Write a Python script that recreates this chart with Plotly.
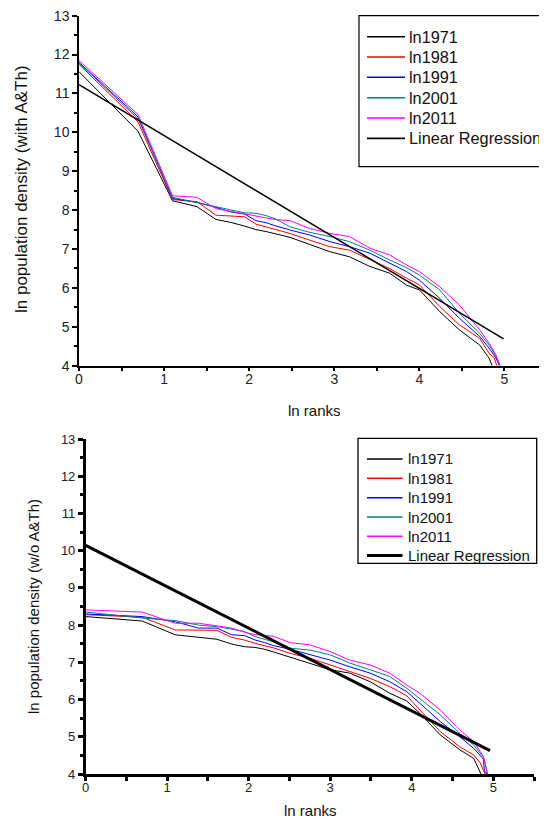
import plotly.graph_objects as go

# ---------------- data ----------------
years = ["ln1971", "ln1981", "ln1991", "ln2001", "ln2011"]
colors = ["#000000", "#ff0000", "#0000ff", "#008080", "#ff00ff"]
reg_name = "Linear Regression"

# top panel: with A&Th
x_top = [0, 0.693, 1.099, 1.386, 1.609, 1.792, 1.946, 2.079, 2.197, 2.303,
         2.48, 2.71, 2.95, 3.18, 3.42, 3.65, 3.85, 4.0, 4.24, 4.47, 4.71, 4.82]
top_1971 = [11.56, 10.03, 8.24, 8.09, 7.76, 7.68, 7.59, 7.50, 7.45, 7.40,
            7.30, 7.12, 6.93, 6.80, 6.55, 6.38, 6.07, 5.95, 5.39, 4.92, 4.53, 4.19]
top_1981 = [11.75, 10.27, 8.27, 8.22, 7.87, 7.84, 7.83, 7.64, 7.57, 7.52,
            7.40, 7.23, 7.06, 6.97, 6.72, 6.50, 6.25, 6.08, 5.52, 5.05, 4.70, 4.32]
top_1991 = [11.80, 10.40, 8.30, 8.20, 8.07, 7.95, 7.90, 7.73, 7.68, 7.60,
            7.49, 7.36, 7.19, 7.06, 6.89, 6.63, 6.42, 6.20, 5.73, 5.22, 4.75, 4.45]
top_2001 = [11.78, 10.35, 8.33, 8.20, 8.08, 8.00, 7.93, 7.92, 7.86, 7.78,
            7.57, 7.43, 7.32, 7.19, 6.97, 6.72, 6.52, 6.33, 5.95, 5.35, 4.83, 4.53]
top_2011 = [11.85, 10.46, 8.37, 8.33, 8.04, 7.97, 7.92, 7.85, 7.80, 7.76,
            7.73, 7.53, 7.40, 7.32, 7.02, 6.85, 6.59, 6.42, 6.03, 5.56, 4.92, 4.58]
top_tail_x = [[4.855], [4.88, 4.91], [4.90, 4.94], [4.90, 4.94], [4.90, 4.95]]
top_tail_y = [[4.0], [4.2, 4.0], [4.2, 4.0], [4.25, 4.0], [4.28, 4.0]]
top_reg_x = [0, 4.99]
top_reg_y = [11.23, 4.69]

# bottom panel: without A&Th
x_bot = [0, 0.693, 1.099, 1.386, 1.609, 1.792, 1.946, 2.079, 2.197, 2.303,
         2.51, 2.75, 3.0, 3.24, 3.49, 3.73, 3.94, 4.10, 4.35, 4.59, 4.76]
bot_1971 = [8.23, 8.11, 7.74, 7.67, 7.62, 7.49, 7.42, 7.40, 7.35, 7.28,
            7.14, 6.98, 6.80, 6.71, 6.48, 6.17, 5.96, 5.63, 5.05, 4.65, 4.42]
bot_1981 = [8.28, 8.21, 7.87, 7.87, 7.86, 7.67, 7.60, 7.51, 7.44, 7.39,
            7.24, 7.11, 6.93, 6.75, 6.57, 6.35, 6.10, 5.72, 5.14, 4.73, 4.51]
bot_1991 = [8.30, 8.23, 8.09, 7.92, 7.92, 7.74, 7.72, 7.60, 7.53, 7.45,
            7.35, 7.20, 7.06, 6.88, 6.71, 6.48, 6.21, 5.90, 5.41, 5.00, 4.69]
bot_2001 = [8.35, 8.19, 8.12, 8.00, 7.96, 7.90, 7.83, 7.69, 7.62, 7.55,
            7.38, 7.33, 7.20, 6.98, 6.80, 6.62, 6.30, 6.03, 5.59, 5.09, 4.78]
bot_2011 = [8.41, 8.35, 8.05, 8.05, 7.98, 7.92, 7.81, 7.74, 7.72, 7.70,
            7.53, 7.47, 7.29, 7.06, 6.93, 6.71, 6.39, 6.17, 5.72, 5.18, 4.87]
bot_tail_x = [[4.85], [4.84, 4.90], [4.88, 4.89, 4.92], [4.88, 4.93], [4.88, 4.93]]
bot_tail_y = [[4.0], [4.3, 4.0], [4.4, 4.1, 4.0], [4.45, 4.0], [4.47, 4.0]]
bot_reg_x = [0, 4.96]
bot_reg_y = [10.14, 4.63]

x_ticks = [0, 1, 2, 3, 4, 5]
y_ticks = [4, 5, 6, 7, 8, 9, 10, 11, 12, 13]

# ---------------- figure ----------------
# the page body has an 8px margin, so the figure is 8px smaller and all
# reference pixel positions are shifted by 8px
OFF = 8
W, H = 547 - OFF, 820 - OFF
FONT = "Liberation Sans, Arial, sans-serif"
fig = go.Figure()

top_series = [top_1971, top_1981, top_1991, top_2001, top_2011]
bot_series = [bot_1971, bot_1981, bot_1991, bot_2001, bot_2011]

for i, name in enumerate(years):
    fig.add_trace(go.Scatter(x=x_top + top_tail_x[i], y=top_series[i] + top_tail_y[i],
                             mode="lines", name=name, line=dict(color=colors[i], width=1),
                             xaxis="x", yaxis="y"))
fig.add_trace(go.Scatter(x=top_reg_x, y=top_reg_y, mode="lines", name=reg_name,
                         line=dict(color="#000000", width=1.5), xaxis="x", yaxis="y"))

for i, name in enumerate(years):
    fig.add_trace(go.Scatter(x=x_bot + bot_tail_x[i], y=bot_series[i] + bot_tail_y[i],
                             mode="lines", name=name, line=dict(color=colors[i], width=1),
                             xaxis="x2", yaxis="y2"))
fig.add_trace(go.Scatter(x=bot_reg_x, y=bot_reg_y, mode="lines", name=reg_name,
                         line=dict(color="#000000", width=3), xaxis="x2", yaxis="y2"))


def px_x(p):
    return (p - OFF) / W


def px_y(p):
    return 1 - (p - OFF) / H


def xax(domain, anchor, lw, fs):
    return dict(domain=domain, anchor=anchor, range=[0, 5.5], tickvals=x_ticks,
                showgrid=False, zeroline=False, showline=True, linecolor="#000", linewidth=lw,
                ticks="", tickfont=dict(family=FONT, size=fs, color="#222"),
                ticklabeloverflow="allow",
                minor=dict(dtick=0.5, tick0=0, ticks="outside", ticklen=4, tickcolor="#000",
                           tickwidth=lw, showgrid=False))


def yax(domain, anchor, lw, fs):
    return dict(domain=domain, anchor=anchor, range=[4, 13], tickvals=y_ticks,
                showgrid=False, zeroline=False, showline=True, linecolor="#000", linewidth=lw,
                ticks="outside", ticklen=5, tickwidth=lw, tickcolor="#000",
                tickfont=dict(family=FONT, size=fs, color="#222"),
                ticklabeloverflow="allow",
                minor=dict(dtick=0.5, tick0=0, ticks="outside", ticklen=3, tickcolor="#000",
                           tickwidth=lw, showgrid=False))


fig.update_layout(
    width=W, height=H, margin=dict(l=0, r=0, t=0, b=0, autoexpand=False),
    paper_bgcolor="white", plot_bgcolor="white",
    font=dict(family=FONT, size=14, color="#111"),
    xaxis=xax([px_x(79), 1.0], "y", 1.5, 14),
    yaxis=yax([px_y(365.7), px_y(15.7)], "x", 1.5, 14),
    xaxis2=xax([px_x(85.7), px_x(534)], "y2", 2.5, 13),
    yaxis2=yax([px_y(774), px_y(439)], "x2", 2.5, 13),
    showlegend=False,
)

shapes = []
annotations = []


def add_legend(box, rows_y, line_x, text_x, fs, border_w, reg_w):
    x0, y0, x1, y1 = box
    shapes.append(dict(type="rect", xref="paper", yref="paper",
                       x0=px_x(x0), x1=px_x(x1), y0=px_y(y1), y1=px_y(y0),
                       line=dict(color="#000", width=border_w), fillcolor="white", layer="above"))
    names = years + [reg_name]
    cols = colors + ["#000000"]
    widths = [1.6] * 5 + [reg_w]
    for nm, c, w, ry in zip(names, cols, widths, rows_y):
        shapes.append(dict(type="line", xref="paper", yref="paper",
                           x0=px_x(line_x[0]), x1=px_x(line_x[1]), y0=px_y(ry), y1=px_y(ry),
                           line=dict(color=c, width=w), layer="above"))
        annotations.append(dict(text=nm, x=px_x(text_x), y=px_y(ry), xref="paper", yref="paper",
                                xanchor="left", yanchor="middle", showarrow=False,
                                font=dict(family=FONT, size=fs, color="#111")))


add_legend((359, 15.7, 545.5, 166.7), [36.7, 57, 77.3, 97.7, 118, 138.3],
           (367, 405), 407, 16.3, 1.2, 1.8)
add_legend((358, 438.3, 536.7, 563.3), [459, 478.3, 497.7, 517, 536.3, 555.5],
           (367, 402.5), 406, 15, 1.3, 3)

annotations += [
    dict(text="ln ranks", x=px_x(314), y=px_y(411), xref="paper", yref="paper",
         xanchor="center", yanchor="middle",
         showarrow=False, font=dict(family=FONT, size=15, color="#111")),
    dict(text="ln ranks", x=px_x(310), y=px_y(810), xref="paper", yref="paper",
         xanchor="center", yanchor="middle",
         showarrow=False, font=dict(family=FONT, size=15, color="#111")),
    dict(text="ln population density (with A&Th)", x=px_x(22), y=px_y(189),
         xref="paper", yref="paper", showarrow=False, textangle=-90,
         xanchor="center", yanchor="middle",
         font=dict(family=FONT, size=17, color="#111")),
    dict(text="ln population density (w/o A&Th)", x=px_x(33), y=px_y(607),
         xref="paper", yref="paper", showarrow=False, textangle=-90,
         xanchor="center", yanchor="middle",
         font=dict(family=FONT, size=15, color="#111")),
]
fig.update_layout(shapes=shapes, annotations=annotations)

fig.write_html("out.html")
